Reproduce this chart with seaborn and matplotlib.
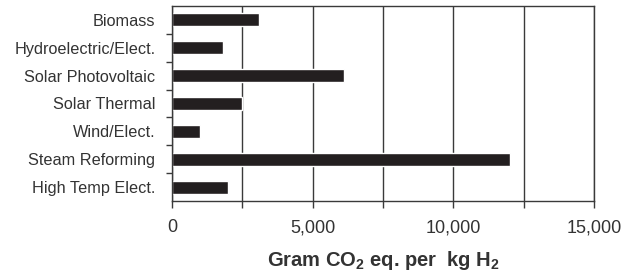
import pandas as pd
import matplotlib.pyplot as plt
import matplotlib.ticker as mticker
import seaborn as sns

# dados
categories = ['Biomass', 'Hydroelectric/Elect.', 'Solar Photovoltaic', 'Solar Thermal',
              'Wind/Elect.', 'Steam Reforming', 'High Temp Elect.']
co2_values = [3100, 1800, 6100, 2500, 1000, 12000, 2000]

df = pd.DataFrame({'Pathway': categories, 'CO2': co2_values})

sns.set_style('white')
plt.rcParams['font.family'] = ['Liberation Sans', 'DejaVu Sans']
plt.rcParams['mathtext.fontset'] = 'custom'
plt.rcParams['mathtext.rm'] = 'Liberation Sans:bold'
plt.rcParams['mathtext.bf'] = 'Liberation Sans:bold'

text_color = '#333333'
line_color = '#3a3a3a'

fig = plt.figure(figsize=(6.31, 2.8), dpi=100)
ax = fig.add_axes([0.2726, 0.282, 0.6688, 0.697])

sns.barplot(data=df, x='CO2', y='Pathway', orient='h', color='#231f20',
            width=0.46, saturation=1, ax=ax)

ax.set_xlim(0, 15000)
ax.set_ylim(len(categories) - 0.5, -0.5)

# grade vertical a cada 2500
ax.xaxis.set_major_locator(mticker.MultipleLocator(5000))
ax.xaxis.set_minor_locator(mticker.MultipleLocator(2500))
ax.xaxis.set_major_formatter(mticker.StrMethodFormatter('{x:,.0f}'))
ax.grid(True, axis='x', which='both', color=line_color, linewidth=1.0)
ax.set_axisbelow(True)

# marcas do eixo y nas fronteiras das categorias
ax.set_yticks([i + 0.5 for i in range(len(categories) - 1)], minor=True)
ax.tick_params(axis='y', which='major', length=0, labelsize=11.7, colors=text_color, pad=12)
ax.tick_params(axis='y', which='minor', length=4, width=1, color=line_color, left=True)
ax.tick_params(axis='x', which='both', length=5, width=1, color=line_color, bottom=True,
               direction='out')
ax.tick_params(axis='x', which='major', labelsize=13, labelcolor=text_color, pad=8)

for s in ax.spines.values():
    s.set_color(line_color)
    s.set_linewidth(1.0)

ax.set_ylabel('')
ax.set_xlabel(r'Gram CO$_2$ eq. per  kg H$_2$', fontsize=14.5, fontweight='bold',
              color=text_color, labelpad=9)

fig.savefig('out.png', dpi=100)
